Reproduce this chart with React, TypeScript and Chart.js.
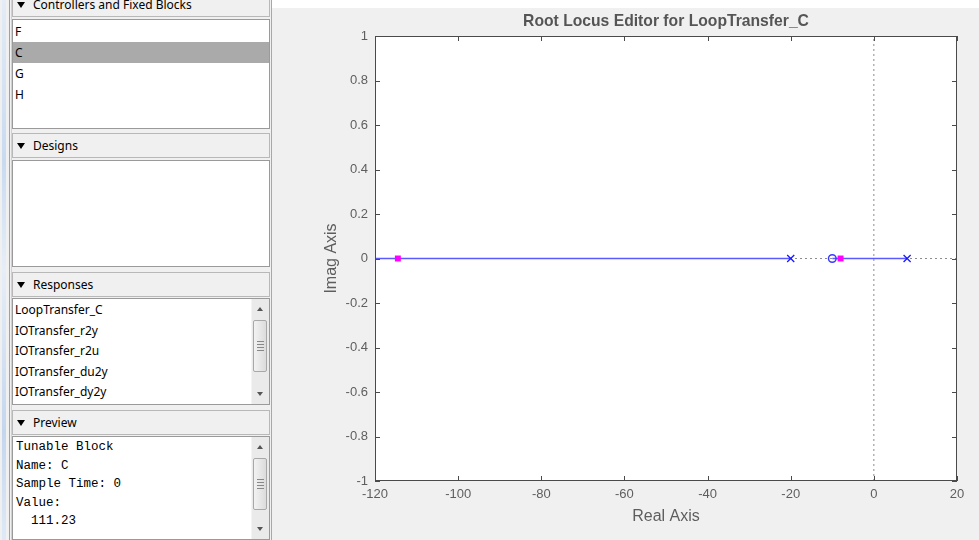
import React, { useEffect, useRef } from "react";
import { Chart, registerables } from "chart.js";
Chart.register(...registerables);

// ---- data ----
const xTicks = [-120, -100, -80, -60, -40, -20, 0, 20];
const yTicks = [-1, -0.8, -0.6, -0.4, -0.2, 0, 0.2, 0.4, 0.6, 0.8, 1];
const xRange = [-120, 20];
const yRange = [-1, 1];
const locusBranchA = [-120, -20];
const locusBranchB = [-10, 8];
const openLoopPoles = [-20, 8];
const openLoopZeros = [-10];
const closedLoopPoles = [-114.5, -8];

const blockItems = ["F", "C", "G", "H"];
const selectedBlock = "C";
const responseItems = ["LoopTransfer_C", "IOTransfer_r2y", "IOTransfer_r2u", "IOTransfer_du2y", "IOTransfer_dy2y"];
const previewLines = ["Tunable Block", "Name: C", "Sample Time: 0", "Value:", "  111.23"];

const titleText = "Root Locus Editor for LoopTransfer_C";
const xTitle = "Real Axis";
const yTitle = "Imag Axis";

const AX = "#4a4a4a";
const TXT = "#5e5e5e";

const decor = {
  id: "decor",
  beforeDraw(chart: any) {
    const { ctx, chartArea: a } = chart;
    ctx.save();
    ctx.fillStyle = "#ffffff";
    ctx.fillRect(a.left, a.top, a.right - a.left, a.bottom - a.top);
    ctx.restore();
  },
  afterDraw(chart: any) {
    const { ctx, chartArea: a, scales } = chart;
    ctx.save();
    ctx.strokeStyle = AX;
    ctx.lineWidth = 1;
    ctx.strokeRect(a.left + 0.5, a.top + 0.5, a.right - a.left - 1, a.bottom - a.top - 1);
    ctx.beginPath();
    xTicks.forEach((v) => {
      const px = Math.round(scales.x.getPixelForValue(v)) + 0.5;
      ctx.moveTo(px, a.bottom);
      ctx.lineTo(px, a.bottom - 5);
      ctx.moveTo(px, a.top);
      ctx.lineTo(px, a.top + 5);
    });
    yTicks.forEach((v) => {
      const py = Math.round(scales.y.getPixelForValue(v)) + 0.5;
      ctx.moveTo(a.left, py);
      ctx.lineTo(a.left + 5, py);
      ctx.moveTo(a.right, py);
      ctx.lineTo(a.right - 5, py);
    });
    ctx.stroke();

    const cx = (a.left + a.right) / 2;
    ctx.fillStyle = "#555555";
    ctx.textAlign = "center";
    ctx.textBaseline = "middle";
    ctx.font = 'bold 15.7px "Liberation Sans", Arial, sans-serif';
    ctx.fillText(titleText, cx, 22);
    ctx.fillStyle = TXT;
    ctx.font = '16px "Liberation Sans", Arial, sans-serif';
    ctx.fillText(xTitle, cx, 517);
    ctx.translate(60, (a.top + a.bottom) / 2);
    ctx.rotate(-Math.PI / 2);
    ctx.fillText(yTitle, 0, 0);
    ctx.restore();
  },
};

function RootLocus() {
  const ref = useRef<HTMLCanvasElement | null>(null);
  useEffect(() => {
    if (!ref.current) return;
    const pts = (xs: number[]) => xs.map((x) => ({ x, y: 0 }));
    const chart = new Chart(ref.current, {
      type: "scatter",
      data: {
        datasets: [
          {
            data: pts(closedLoopPoles),
            pointStyle: "rect",
            pointRadius: 4.2,
            backgroundColor: "#ff00ff",
            borderColor: "#ff00ff",
            borderWidth: 0,
            order: 1,
          },
          {
            data: pts(openLoopPoles),
            pointStyle: "crossRot",
            pointRadius: 5,
            borderColor: "#1a1aff",
            borderWidth: 1.3,
            order: 2,
          },
          {
            data: pts(openLoopZeros),
            pointStyle: "circle",
            pointRadius: 3.8,
            backgroundColor: "rgba(0,0,0,0)",
            borderColor: "#3a3aff",
            borderWidth: 1.5,
            order: 2,
          },
          {
            data: pts(locusBranchA),
            showLine: true,
            pointRadius: 0,
            borderColor: "#5a5aff",
            borderWidth: 1.5,
            order: 5,
          },
          {
            data: pts(locusBranchB),
            showLine: true,
            pointRadius: 0,
            borderColor: "#5a5aff",
            borderWidth: 1.5,
            order: 5,
          },
          {
            data: pts(xRange),
            showLine: true,
            pointRadius: 0,
            borderColor: "#8c8c8c",
            borderWidth: 1,
            borderDash: [2, 3],
            order: 10,
          },
          {
            data: yRange.map((y) => ({ x: 0, y })),
            showLine: true,
            pointRadius: 0,
            borderColor: "#8c8c8c",
            borderWidth: 1,
            borderDash: [2, 3],
            order: 10,
          },
        ] as any,
      },
      options: {
        animation: false,
        responsive: false,
        events: [],
        layout: { padding: { left: 63, right: 22, top: 36, bottom: 29 } },
        plugins: { legend: { display: false }, tooltip: { enabled: false }, title: { display: false } },
        scales: {
          x: {
            type: "linear",
            min: xRange[0],
            max: xRange[1],
            afterBuildTicks: (s: any) => {
              s.ticks = xTicks.map((value) => ({ value }));
            },
            afterFit: (s: any) => {
              s.height = 30;
            },
            grid: { display: false, drawTicks: false },
            border: { display: false },
            ticks: {
              color: TXT,
              padding: 6,
              maxRotation: 0,
              autoSkip: false,
              font: { family: '"Liberation Sans", Arial, sans-serif', size: 13 },
              callback: (v: any) => String(v),
            },
          },
          y: {
            type: "linear",
            min: yRange[0],
            max: yRange[1],
            afterBuildTicks: (s: any) => {
              s.ticks = yTicks.map((value) => ({ value }));
            },
            afterFit: (s: any) => {
              s.width = 40;
            },
            grid: { display: false, drawTicks: false },
            border: { display: false },
            ticks: {
              color: TXT,
              padding: 7,
              autoSkip: false,
              font: { family: '"Liberation Sans", Arial, sans-serif', size: 13 },
              callback: (v: any) => String(Math.round(Number(v) * 10) / 10),
            },
          },
        },
      } as any,
      plugins: [decor as any],
    });
    return () => chart.destroy();
  }, []);
  return (
    <canvas
      ref={ref}
      width={707}
      height={540}
      style={{ position: "absolute", left: 272, top: 0, width: 707, height: 540 }}
    />
  );
}

const uiFont = '12px "Noto Sans", "Open Sans", sans-serif';

function Header({ top, label }: { top: number; label: string }) {
  return (
    <div
      style={{
        position: "absolute",
        left: 12,
        top,
        width: 258,
        height: 25,
        boxSizing: "border-box",
        border: "1px solid #b8b8b8",
        background: "#f0f0f0",
        font: uiFont,
        color: "#000",
      }}
    >
      <div
        style={{
          position: "absolute",
          left: 4,
          top: 9,
          width: 0,
          height: 0,
          borderLeft: "4px solid transparent",
          borderRight: "4px solid transparent",
          borderTop: "6px solid #000",
        }}
      />
      <span style={{ position: "absolute", left: 20, top: 0, lineHeight: "23px", whiteSpace: "nowrap" }}>{label}</span>
    </div>
  );
}

function Box({ top, height, children }: { top: number; height: number; children?: any }) {
  return (
    <div
      style={{
        position: "absolute",
        left: 12,
        top,
        width: 258,
        height,
        boxSizing: "border-box",
        border: "1px solid #9a9a9a",
        background: "#fff",
        overflow: "hidden",
      }}
    >
      {children}
    </div>
  );
}

function ScrollBar() {
  return (
    <div
      style={{
        position: "absolute",
        right: 0,
        top: 0,
        bottom: 0,
        width: 17,
        background: "#eaeaea",
        borderLeft: "1px solid #f4f4f4",
      }}
    >
      <div
        style={{
          position: "absolute",
          left: 5,
          top: 8,
          width: 0,
          height: 0,
          borderLeft: "3.5px solid transparent",
          borderRight: "3.5px solid transparent",
          borderBottom: "4px solid #555",
        }}
      />
      <div
        style={{
          position: "absolute",
          left: 1,
          top: 21,
          width: 14,
          height: 52,
          boxSizing: "border-box",
          border: "1px solid #a8a8a8",
          borderRadius: 2,
          background: "linear-gradient(to right, #f2f2f2, #dcdcdc)",
        }}
      >
        {[0, 1, 2, 3].map((i) => (
          <div
            key={i}
            style={{ position: "absolute", left: 3, top: 20 + i * 3, width: 7, height: 1, background: "#888" }}
          />
        ))}
      </div>
      <div
        style={{
          position: "absolute",
          left: 5,
          bottom: 8,
          width: 0,
          height: 0,
          borderLeft: "3.5px solid transparent",
          borderRight: "3.5px solid transparent",
          borderTop: "4px solid #555",
        }}
      />
    </div>
  );
}

export default function App() {
  return (
    <div
      style={{
        position: "absolute",
        left: 0,
        top: 0,
        width: 979,
        height: 540,
        background: "#f0f0f0",
        overflow: "hidden",
      }}
    >
      <div style={{ position: "absolute", left: 272, top: 0, width: 707, height: 8, background: "#fff" }} />
      <div
        style={{
          position: "absolute",
          left: 2,
          top: 0,
          width: 4,
          height: 540,
          background: "linear-gradient(to bottom, #e3ecf7, #c9daf0 30%, #e6eef8 50%, #c4d6ee 80%, #dfe9f6)",
        }}
      />
      <div style={{ position: "absolute", left: 9, top: 0, width: 1, height: 540, background: "#a0a0a0" }} />
      <div style={{ position: "absolute", left: 11, top: 0, width: 1, height: 540, background: "#d0d0d0" }} />
      <div style={{ position: "absolute", left: 271, top: 0, width: 1, height: 540, background: "#a8a8a8" }} />

      <Header top={-8} label="Controllers and Fixed Blocks" />
      <Box top={19} height={110}>
        <div style={{ paddingTop: 1, font: uiFont }}>
          {blockItems.map((b) => (
            <div
              key={b}
              style={{
                height: 21,
                lineHeight: "21px",
                paddingLeft: 2,
                background: b === selectedBlock ? "#aaaaaa" : "transparent",
              }}
            >
              {b}
            </div>
          ))}
        </div>
      </Box>

      <Header top={133} label="Designs" />
      <Box top={160} height={107} />

      <Header top={272} label="Responses" />
      <Box top={298} height={107}>
        <div style={{ paddingTop: 1, font: uiFont }}>
          {responseItems.map((r) => (
            <div key={r} style={{ height: 20.5, lineHeight: "20.5px", paddingLeft: 2, whiteSpace: "nowrap" }}>
              {r}
            </div>
          ))}
        </div>
        <ScrollBar />
      </Box>

      <Header top={410} label="Preview" />
      <Box top={436} height={104}>
        <div style={{ paddingTop: 1, font: '12.5px "Liberation Mono", "Courier New", monospace' }}>
          {previewLines.map((l, i) => (
            <div key={i} style={{ height: 18.5, lineHeight: "18.5px", paddingLeft: 3, whiteSpace: "pre" }}>
              {l}
            </div>
          ))}
        </div>
        <ScrollBar />
      </Box>

      <RootLocus />
    </div>
  );
}
